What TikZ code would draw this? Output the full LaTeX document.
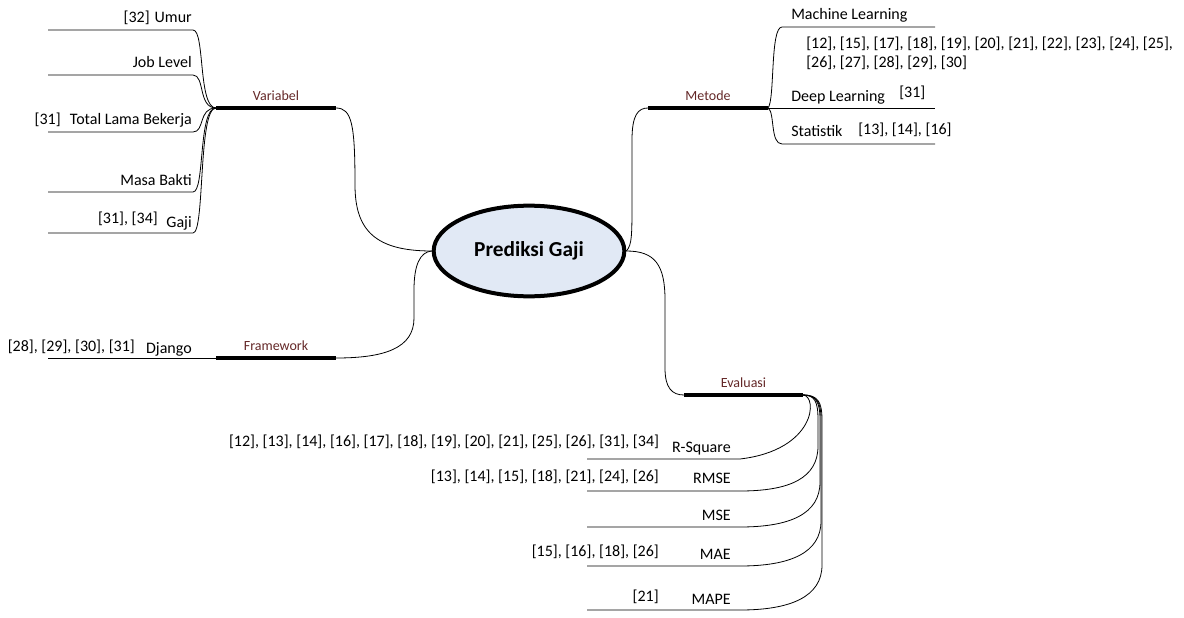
\documentclass[tikz,border=0pt]{standalone}
\usepackage{fontspec}
\setmainfont{Carlito}
\usetikzlibrary{shapes.geometric}
\definecolor{hubfill}{RGB}{225,233,245}
\definecolor{tagred}{RGB}{100,40,40}
\tikzstyle{hub}=[ellipse, draw, line width=3pt, fill=hubfill, minimum width=143pt, minimum height=68pt, inner sep=0pt, font=\fontsize{16}{19}\selectfont\bfseries]
\tikzstyle{bar}=[line width=3pt]
\tikzstyle{link}=[line width=0.6pt]
\tikzstyle{leaf}=[inner sep=0pt, font=\fontsize{12}{14}\selectfont]
\tikzstyle{tag}=[inner sep=0pt, anchor=base, text=tagred, font=\fontsize{10.5}{12}\selectfont]

\begin{document}
\begin{tikzpicture}[x=0.75pt, y=-0.75pt]
\useasboundingbox (0,0) rectangle (1184,617);
% Centre
	\node[hub] (hub) at (529,251) {Prediksi Gaji};
% Bars
	\coordinate (varL) at (216,108);
	\coordinate (varR) at (336,108);
	\coordinate (metL) at (648,108);
	\coordinate (metR) at (768,108);
	\coordinate (fwL) at (216,358);
	\coordinate (fwR) at (336,358);
	\coordinate (evaL) at (684,395);
	\coordinate (evaR) at (803,395);
	\draw[bar] (varL) -- (varR) node[tag, midway, yshift=6pt] (variabel) {Variabel};
	\draw[bar] (metL) -- (metR) node[tag, midway, yshift=6pt] (metode) {Metode};
	\draw[bar] (fwL) -- (fwR) node[tag, midway, yshift=6pt] (framework) {Framework};
	\draw[bar] (evaL) -- (evaR) node[tag, midway, yshift=6pt] (evaluasi) {Evaluasi};
% Branches
	\draw[link] (hub.west) .. controls (375,251) and (355,230) .. (355,185) .. controls (355,125) and (352,108) .. (varR);
	\draw[link] (hub.east) .. controls (632,245) and (632,235) .. (632,200) -- (632,140) .. controls (632,115) and (638,108) .. (metL);
	\draw[link] (hub.west) .. controls (420,252) and (414,265) .. (414,290) -- (414,318) .. controls (414,348) and (385,358) .. (fwR);
	\draw[link] (hub.east) .. controls (655,251) and (665,265) .. (665,300) -- (665,368) .. controls (665,388) and (672,395) .. (evaL);
% Variabel leaves
	\coordinate (umurA) at (48,30);
	\coordinate (umurB) at (193,30);
	\coordinate (jobA) at (48,75);
	\coordinate (jobB) at (193,75);
	\coordinate (totalA) at (48,132);
	\coordinate (totalB) at (193,132);
	\coordinate (masaA) at (48,192);
	\coordinate (masaB) at (193,192);
	\coordinate (gajiA) at (48,233);
	\coordinate (gajiB) at (193,233);
	\draw[link] (varL) .. controls (198,108) and (205,30) .. (umurB) -- (umurA);
	\draw[link] (varL) .. controls (198,108) and (205,75) .. (jobB) -- (jobA);
	\draw[link] (varL) .. controls (198,108) and (205,132) .. (totalB) -- (totalA);
	\draw[link] (varL) .. controls (198,108) and (205,192) .. (masaB) -- (masaA);
	\draw[link] (varL) .. controls (198,108) and (205,233) .. (gajiB) -- (gajiA);
	\node[leaf, anchor=base east] (umur) at (192,23) {Umur};
	\node[leaf, anchor=base east] (umurref) at (150,23) {[32]};
	\node[leaf, anchor=base east] (job) at (192,68) {Job Level};
	\node[leaf, anchor=base east] (total) at (192,124) {Total Lama Bekerja};
	\node[leaf, anchor=base east] (totalref) at (61,124) {[31]};
	\node[leaf, anchor=base east] (masa) at (192,185) {Masa Bakti};
	\node[leaf, anchor=base east] (gaji) at (192,227) {Gaji};
	\node[leaf, anchor=base east] (gajiref) at (158,223) {[31], [34]};
% Metode leaves
	\coordinate (mlA) at (782,27);
	\coordinate (mlB) at (935,27);
	\coordinate (dlB) at (935,108);
	\coordinate (statA) at (782,144);
	\coordinate (statB) at (935,144);
	\draw[link] (metR) .. controls (775,100) and (770,27) .. (mlA) -- (mlB);
	\draw[link] (metR) -- (dlB);
	\draw[link] (metR) .. controls (775,112) and (770,144) .. (statA) -- (statB);
	\node[leaf, anchor=base west] (ml) at (791,20) {Machine Learning};
	\node[leaf, anchor=base west] (mlref) at (806,49) {[12], [15], [17], [18], [19], [20], [21], [22], [23], [24], [25],};
	\node[leaf, anchor=base west] (mlref2) at (806,68) {[26], [27], [28], [29], [30]};
	\node[leaf, anchor=base west] (dl) at (791,101) {Deep Learning};
	\node[leaf, anchor=base west] (dlref) at (899,98) {[31]};
	\node[leaf, anchor=base west] (stat) at (791,136) {Statistik};
	\node[leaf, anchor=base west] (statref) at (858,134) {[13], [14], [16]};
% Framework leaf
	\coordinate (djA) at (48,358);
	\draw[link] (fwL) -- (djA);
	\node[leaf, anchor=base east] (django) at (192,353) {Django};
	\node[leaf, anchor=base east] (djangoref) at (135,351) {[28], [29], [30], [31]};
% Evaluasi leaves
	\coordinate (rsqA) at (587,459);
	\coordinate (rsqB) at (740,459);
	\coordinate (rmseA) at (587,491);
	\coordinate (rmseB) at (740,491);
	\coordinate (mseA) at (587,527);
	\coordinate (mseB) at (740,527);
	\coordinate (maeA) at (587,566);
	\coordinate (maeB) at (740,566);
	\coordinate (mapeA) at (587,610);
	\coordinate (mapeB) at (740,610);
	\draw[link] (evaR) .. controls (818,396) and (816,450) .. (rsqB) -- (rsqA);
	\draw[link] (evaR) .. controls (815,395) and (818,402) .. (818,420) -- (818,446) .. controls (818,478) and (790,491) .. (rmseB) -- (rmseA);
	\draw[link] (evaR) .. controls (816,395) and (820,402) .. (820,420) -- (820,482) .. controls (820,514) and (790,527) .. (mseB) -- (mseA);
	\draw[link] (evaR) .. controls (817,395) and (821,402) .. (821,420) -- (821,521) .. controls (821,553) and (790,566) .. (maeB) -- (maeA);
	\draw[link] (evaR) .. controls (818,395) and (822,402) .. (822,420) -- (822,565) .. controls (822,597) and (790,610) .. (mapeB) -- (mapeA);
	\node[leaf, anchor=base east] (rsq) at (731,452) {R-Square};
	\node[leaf, anchor=base east] (rsqref) at (659,446) {[12], [13], [14], [16], [17], [18], [19], [20], [21], [25], [26], [31], [34]};
	\node[leaf, anchor=base east] (rmse) at (731,483) {RMSE};
	\node[leaf, anchor=base east] (rmseref) at (659,481) {[13], [14], [15], [18], [21], [24], [26]};
	\node[leaf, anchor=base east] (mse) at (731,520) {MSE};
	\node[leaf, anchor=base east] (mae) at (731,559) {MAE};
	\node[leaf, anchor=base east] (maeref) at (659,556) {[15], [16], [18], [26]};
	\node[leaf, anchor=base east] (mape) at (731,604) {MAPE};
	\node[leaf, anchor=base east] (maperef) at (659,601) {[21]};
\end{tikzpicture}
\end{document}
